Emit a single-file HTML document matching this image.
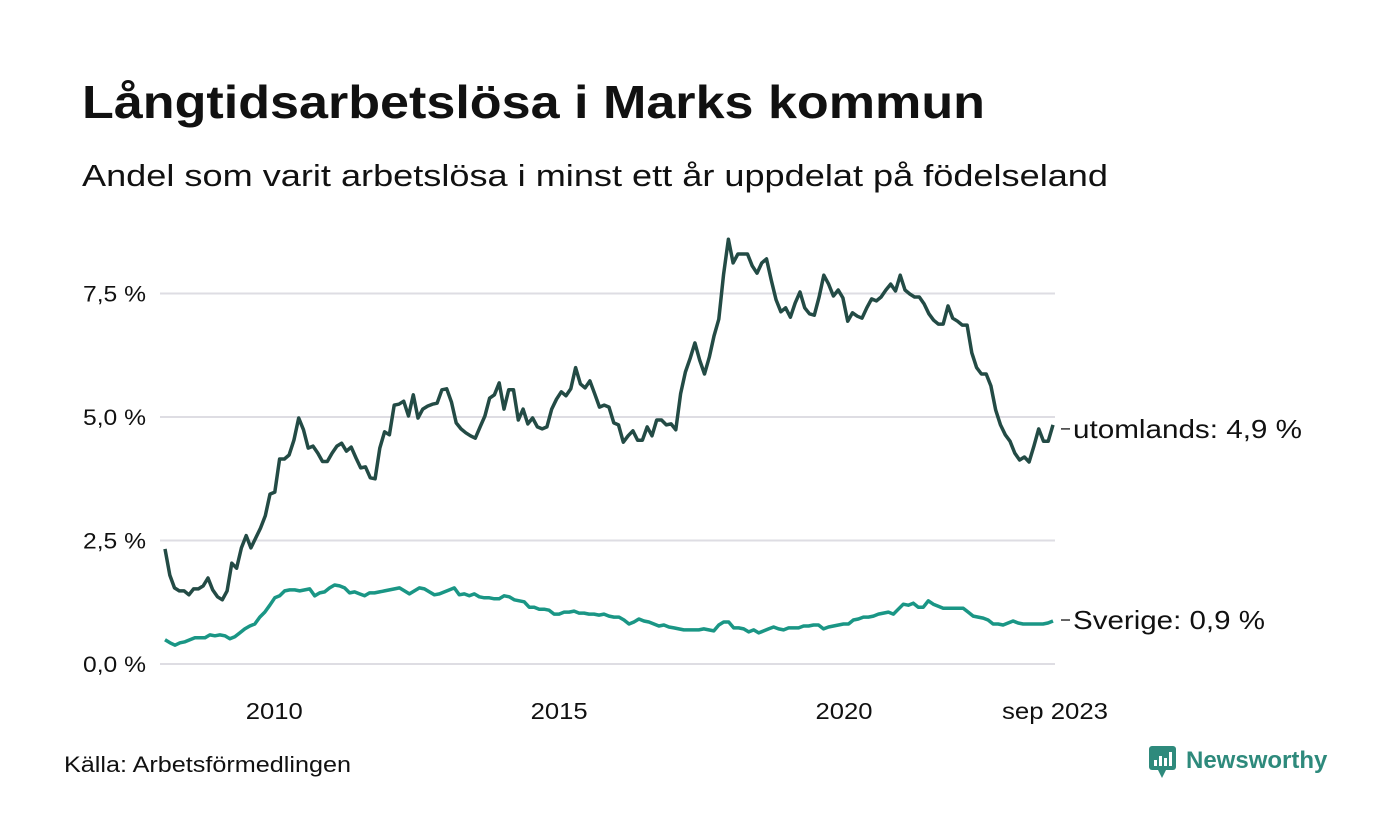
<!DOCTYPE html>
<html><head><meta charset="utf-8"><style>
html,body{margin:0;padding:0;background:#fff}
svg{display:block;font-family:"Liberation Sans",sans-serif}
</style></head><body>
<svg id="chart" width="1400" height="840" viewBox="0 0 1400 840">
<text x="82" y="118" font-size="46" font-weight="bold" fill="#111" textLength="903" lengthAdjust="spacingAndGlyphs">Långtidsarbetslösa i Marks kommun</text>
<text x="82" y="186" font-size="31" fill="#111" textLength="1026" lengthAdjust="spacingAndGlyphs">Andel som varit arbetslösa i minst ett år uppdelat på födelseland</text>
<g id="grid"></g><g id="lines"></g><g id="labels"></g>
<text x="64" y="772" font-size="22" fill="#111" textLength="287" lengthAdjust="spacingAndGlyphs">Källa: Arbetsförmedlingen</text>
<g>
<rect x="1149" y="746" width="27" height="24" rx="3" fill="#2e8a7c"/>
<polygon points="1158,770 1166,770 1162,778" fill="#2e8a7c"/>
<rect x="1154" y="760" width="3" height="6" fill="#fff"/><rect x="1159" y="756" width="3" height="10" fill="#fff"/><rect x="1164" y="758" width="3" height="8" fill="#fff"/><rect x="1169" y="752" width="3" height="14" fill="#fff"/>
<text x="1186" y="768" font-size="24" font-weight="bold" fill="#2e8a7c">Newsworthy</text>
</g>
</svg>
<script>
const yTicks = [0, 2.5, 5.0, 7.5];
const yTickLabels = ["0,0 %", "2,5 %", "5,0 %", "7,5 %"];
const xTickYears = [2010, 2015, 2020];
const xTickLabels = ["2010", "2015", "2020"];
const startYear = 2008.083;
const endYear = 2023.667;
const utomlands = [2.33,1.8,1.54,1.48,1.48,1.4,1.52,1.52,1.58,1.74,1.5,1.36,1.3,1.48,2.04,1.94,2.35,2.6,2.35,2.55,2.75,3.0,3.44,3.48,4.15,4.15,4.23,4.53,4.98,4.74,4.37,4.41,4.27,4.1,4.1,4.27,4.41,4.47,4.31,4.39,4.17,3.97,3.99,3.77,3.75,4.37,4.7,4.64,5.24,5.26,5.32,5.02,5.45,4.98,5.16,5.22,5.26,5.28,5.55,5.57,5.3,4.88,4.76,4.68,4.62,4.57,4.8,5.02,5.38,5.45,5.69,5.16,5.55,5.55,4.94,5.16,4.86,4.98,4.8,4.76,4.8,5.16,5.36,5.51,5.43,5.57,6.0,5.67,5.59,5.73,5.47,5.2,5.24,5.2,4.88,4.84,4.49,4.62,4.72,4.53,4.53,4.8,4.62,4.94,4.94,4.84,4.86,4.74,5.47,5.91,6.19,6.5,6.15,5.87,6.21,6.64,6.98,7.89,8.6,8.12,8.3,8.3,8.3,8.06,7.91,8.12,8.2,7.77,7.37,7.13,7.21,7.02,7.31,7.53,7.21,7.09,7.06,7.43,7.87,7.69,7.45,7.57,7.41,6.94,7.11,7.04,7.0,7.21,7.39,7.35,7.43,7.57,7.69,7.55,7.87,7.57,7.49,7.43,7.43,7.29,7.09,6.96,6.88,6.88,7.25,7.0,6.94,6.86,6.86,6.3,6.0,5.87,5.87,5.63,5.14,4.84,4.64,4.51,4.27,4.13,4.19,4.09,4.41,4.76,4.51,4.51,4.84];
const sverige = [0.49,0.43,0.38,0.43,0.45,0.49,0.53,0.53,0.53,0.59,0.57,0.59,0.57,0.51,0.55,0.63,0.71,0.77,0.81,0.95,1.05,1.19,1.34,1.38,1.48,1.5,1.5,1.48,1.5,1.52,1.38,1.44,1.46,1.54,1.6,1.58,1.54,1.44,1.46,1.42,1.38,1.44,1.44,1.46,1.48,1.5,1.52,1.54,1.48,1.42,1.48,1.54,1.52,1.46,1.4,1.42,1.46,1.5,1.54,1.4,1.42,1.38,1.42,1.36,1.34,1.34,1.32,1.32,1.38,1.36,1.3,1.28,1.26,1.15,1.15,1.11,1.11,1.09,1.01,1.01,1.05,1.05,1.07,1.03,1.03,1.01,1.01,0.99,1.01,0.97,0.95,0.95,0.89,0.81,0.85,0.91,0.87,0.85,0.81,0.77,0.79,0.75,0.73,0.71,0.69,0.69,0.69,0.69,0.71,0.69,0.67,0.79,0.85,0.85,0.73,0.73,0.71,0.65,0.69,0.63,0.67,0.71,0.75,0.71,0.69,0.73,0.73,0.73,0.77,0.77,0.79,0.79,0.71,0.75,0.77,0.79,0.81,0.81,0.89,0.91,0.95,0.95,0.97,1.01,1.03,1.05,1.01,1.11,1.21,1.19,1.23,1.15,1.15,1.28,1.21,1.17,1.13,1.13,1.13,1.13,1.13,1.05,0.97,0.95,0.93,0.89,0.81,0.81,0.79,0.83,0.87,0.83,0.81,0.81,0.81,0.81,0.81,0.83,0.87];
const seriesNames = ["utomlands", "Sverige"];
const seriesLabels = ["utomlands: 4,9 %", "Sverige: 0,9 %"];

const NS = "http://www.w3.org/2000/svg";
const plotL = 165, plotR = 1053, gridL = 160, gridR = 1055;
function yScale(v){ return 664 - v * 49.4; }
function xScale(t){ return plotL + (t - startYear) / (endYear - startYear) * (plotR - plotL); }
function mk(tag, attrs, parent){ const e = document.createElementNS(NS, tag); for (const k in attrs) e.setAttribute(k, attrs[k]); parent.appendChild(e); return e; }

const grid = document.getElementById('grid');
yTicks.forEach((v, i) => {
  const l = mk('line', {x1: gridL, x2: gridR, y1: yScale(v), y2: yScale(v), stroke: '#dedde3', 'stroke-width': 2}, grid);
  
  
  const t = mk('text', {x: 146, y: yScale(v) + 8, 'font-size': 22, 'text-anchor': 'end', fill: '#111', textLength: 63, lengthAdjust: 'spacingAndGlyphs'}, grid);
  t.textContent = yTickLabels[i];
  
  
});
xTickYears.forEach((yr, i) => {
  const t = mk('text', {x: xScale(yr), y: 719, 'font-size': 23, 'text-anchor': 'middle', fill: '#111', textLength: 57, lengthAdjust: 'spacingAndGlyphs'}, grid);
  t.textContent = xTickLabels[i];
  
  
});
const endT = mk('text', {x: 1055, y: 719, 'font-size': 23, 'text-anchor': 'middle', fill: '#111', textLength: 106, lengthAdjust: 'spacingAndGlyphs'}, grid);
endT.textContent = "sep 2023";



const lines = document.getElementById('lines');
const labels = document.getElementById('labels');
const labelLens = [229, 192];
[[utomlands, '#234b45', 'utomlands-line'], [sverige, '#1a9685', 'sverige-line']].forEach((s, si) => {
  const arr = s[0], n = arr.length;
  const pts = arr.map((v, i) => xScale(startYear + i * (endYear - startYear) / (n - 1)).toFixed(1) + ',' + yScale(v).toFixed(1)).join(' ');
  const p = mk('polyline', {points: pts, fill: 'none', stroke: s[1], 'stroke-width': 3.5, 'stroke-linejoin': 'round'}, lines);
  
  
  const ly = yScale(arr[n - 1]) + (si === 0 ? 4 : -1);
  const tk = mk('line', {x1: 1061, x2: 1070, y1: ly, y2: ly, stroke: '#333', 'stroke-width': 1.5}, labels);
  
  
  const t = mk('text', {x: 1073, y: ly + 9, 'font-size': 26, fill: '#111', textLength: labelLens[si], lengthAdjust: 'spacingAndGlyphs'}, labels);
  t.textContent = seriesLabels[si];
  
  
});
</script>
</body></html>
